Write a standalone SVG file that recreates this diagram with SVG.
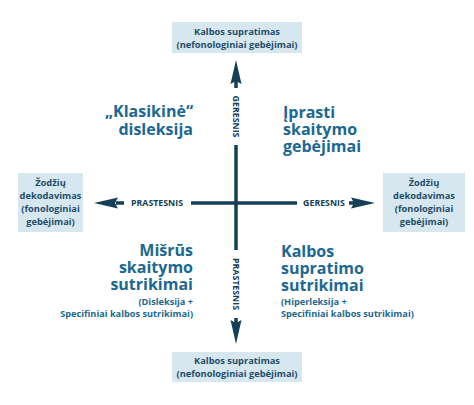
<svg xmlns="http://www.w3.org/2000/svg" width="474" height="405" viewBox="0 0 474 405">
<style>
.box{fill:#d7e7f0;}
.bt{font-family:"Open Sans",Lato,sans-serif;font-weight:700;font-size:9.3px;fill:#1d4d69;text-anchor:middle;}
.q{font-family:"Open Sans",Lato,sans-serif;font-weight:700;font-size:16px;fill:#1b6892;}
.qs{font-family:"Open Sans",Lato,sans-serif;font-weight:700;font-size:9.2px;fill:#1b6892;}
.ax{font-family:"Open Sans",Lato,sans-serif;font-weight:700;font-size:8.8px;fill:#143f56;}
.ln{stroke:#143f56;stroke-width:3.5;fill:none;}
.hd{fill:#143f56;}
</style>
<rect width="474" height="405" fill="#ffffff"/>
<g id="top-box">
<rect class="box" x="172" y="22" width="130" height="31"/>
<text class="bt" x="237" y="35">Kalbos supratimas</text>
<text class="bt" x="237" y="48">(nefonologiniai gebėjimai)</text>
</g>
<g id="bottom-box">
<rect class="box" x="172" y="352" width="130" height="30"/>
<text class="bt" x="237" y="364">Kalbos supratimas</text>
<text class="bt" x="237" y="377">(nefonologiniai gebėjimai)</text>
</g>
<g id="left-box">
<rect class="box" x="18" y="173" width="65" height="59"/>
<text class="bt" x="50.5" y="186">Žodžių</text>
<text class="bt" x="50.5" y="199">dekodavimas</text>
<text class="bt" x="50.5" y="212">(fonologiniai</text>
<text class="bt" x="50.5" y="225">gebėjimai)</text>
</g>
<g id="right-box">
<rect class="box" x="383" y="173" width="82" height="59"/>
<text class="bt" x="424" y="186">Žodžių</text>
<text class="bt" x="424" y="199">dekodavimas</text>
<text class="bt" x="424" y="212">(fonologiniai</text>
<text class="bt" x="424" y="225">gebėjimai)</text>
</g>
<g id="quadrant-top-left">
<text class="q" x="193" y="117" text-anchor="end">„Klasikinė“</text>
<text class="q" x="193" y="135" text-anchor="end">disleksija</text>
</g>
<g id="quadrant-top-right">
<text class="q" x="283" y="118">Įprasti</text>
<text class="q" x="283" y="135">skaitymo</text>
<text class="q" x="283" y="152">gebėjimai</text>
</g>
<g id="quadrant-bottom-left">
<text class="q" x="193" y="256" text-anchor="end">Mišrūs</text>
<text class="q" x="193" y="273" text-anchor="end">skaitymo</text>
<text class="q" x="193" y="290" text-anchor="end">sutrikimai</text>
<text class="qs" x="193" y="305" text-anchor="end">(Disleksija +</text>
<text class="qs" x="193" y="317" text-anchor="end">Specifiniai kalbos sutrikimai)</text>
</g>
<g id="quadrant-bottom-right">
<text class="q" x="281" y="257">Kalbos</text>
<text class="q" x="281" y="274">supratimo</text>
<text class="q" x="281" y="291">sutrikimai</text>
<text class="qs" x="281" y="305">(Hiperleksija +</text>
<text class="qs" x="281" y="317">Specifiniai kalbos sutrikimai)</text>
</g>
<g id="connectors">
<line class="ln" x1="236" y1="80" x2="236" y2="88"/>
<line class="ln" x1="236" y1="145" x2="236" y2="250"/>
<line class="ln" x1="236" y1="318" x2="236" y2="326"/>
<line class="ln" x1="116" y1="203" x2="124" y2="203"/>
<line class="ln" x1="191" y1="203" x2="297" y2="203"/>
<line class="ln" x1="349" y1="203" x2="357" y2="203"/>
<polygon class="hd" points="236,60 241.5,84 236,81 230.5,84"/>
<polygon class="hd" points="236,344 241.5,320 236,323 230.5,320"/>
<polygon class="hd" points="94,203 118,197.5 115,203 118,208.5"/>
<polygon class="hd" points="375,203 351,197.5 354,203 351,208.5"/>
<text class="ax" x="157" y="206.2" text-anchor="middle">PRASTESNIS</text>
<text class="ax" x="324" y="206.2" text-anchor="middle">GERESNIS</text>
<text class="ax" transform="translate(232.9,116.5) rotate(90)" text-anchor="middle">GERESNIS</text>
<text class="ax" transform="translate(232.9,284) rotate(90)" text-anchor="middle">PRASTESNIS</text>
</g>
</svg>
